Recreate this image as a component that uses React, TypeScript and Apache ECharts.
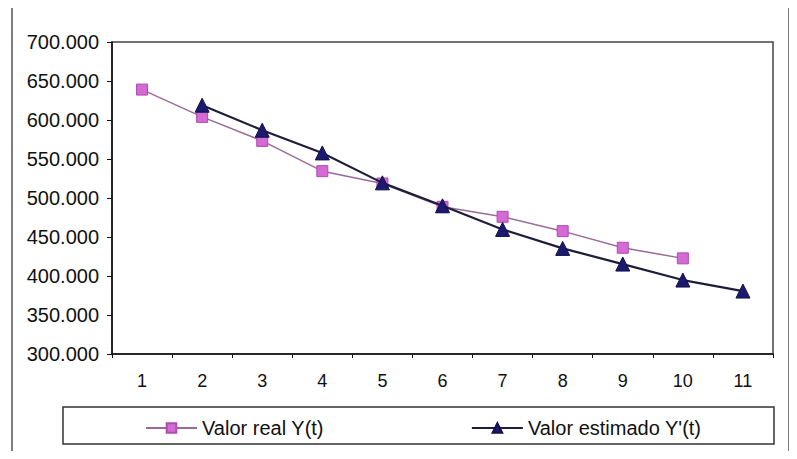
import React, { useEffect, useRef } from "react";
import * as echarts from "echarts";

const categories = ["1", "2", "3", "4", "5", "6", "7", "8", "9", "10", "11"];
const valorReal: (number | null)[] = [639000, 604000, 573200, 534400, 518600, 488700, 475900, 457500, 436200, 422600, null];
const valorEstimado: (number | null)[] = [null, 619000, 586900, 557800, 519400, 490000, 459700, 435400, 415300, 394800, 380700];
const seriesNames = ["Valor real Y(t)", "Valor estimado Y'(t)"];

const fmt = (v: number) => {
  const s = String(Math.round(v));
  return s.replace(/\B(?=(\d{3})+(?!\d))/g, ".");
};

export default function App() {
  const ref = useRef<HTMLDivElement>(null);
  useEffect(() => {
    if (!ref.current) return;
    const chart = echarts.init(ref.current, null, { renderer: "svg" });
    const font = "Liberation Sans, Arial, sans-serif";
    chart.setOption({
      animation: false,
      backgroundColor: "#ffffff",
      textStyle: { fontFamily: font },
      grid: {
        left: 112,
        right: 24,
        top: 42,
        bottom: 105,
        show: true,
        borderColor: "#444",
        borderWidth: 1.5,
        backgroundColor: "transparent",
      },
      graphic: [
        {
          type: "rect",
          shape: { x: 12, y: 5, width: 777, height: 470 },
          style: { fill: "none", stroke: "#555", lineWidth: 1.5 },
          silent: true,
        },
        {
          type: "rect",
          shape: { x: 63, y: 407, width: 711, height: 37 },
          style: { fill: "none", stroke: "#333", lineWidth: 1.5 },
          silent: true,
        },
      ],
      legend: {
        left: 140,
        top: 413,
        itemWidth: 51,
        itemHeight: 12,
        itemGap: 147,
        textStyle: { fontSize: 20, color: "#111", fontFamily: font },
        data: seriesNames,
      },
      xAxis: {
        type: "category",
        data: categories,
        boundaryGap: true,
        axisLine: { lineStyle: { color: "#111", width: 1.5 } },
        axisTick: { show: true, length: 4, lineStyle: { color: "#111" } },
        axisLabel: { fontSize: 18, color: "#111", margin: 18, fontFamily: font },
        splitLine: { show: false },
      },
      yAxis: {
        type: "value",
        min: 300000,
        max: 700000,
        interval: 50000,
        axisLine: { show: true, lineStyle: { color: "#111", width: 1.5 } },
        axisTick: { show: true, length: 5, lineStyle: { color: "#111" } },
        axisLabel: { fontSize: 20, color: "#111", margin: 13, fontFamily: font, formatter: fmt },
        splitLine: { show: false },
      },
      series: [
        {
          name: seriesNames[0],
          type: "line",
          data: valorReal,
          symbol: "rect",
          symbolSize: 11,
          lineStyle: { color: "#9a6c94", width: 1.5 },
          itemStyle: { color: "#d46ad4", borderColor: "#b04cb0", borderWidth: 1 },
          z: 2,
        },
        {
          name: seriesNames[1],
          type: "line",
          data: valorEstimado,
          symbol: "triangle",
          symbolSize: 14,
          lineStyle: { color: "#1e1e3c", width: 2.2 },
          itemStyle: { color: "#1c1a6e", borderColor: "#12104a", borderWidth: 1 },
          z: 3,
        },
      ],
    });
    return () => chart.dispose();
  }, []);
  return <div ref={ref} style={{ width: 797, height: 459, margin: -8 }} />;
}
